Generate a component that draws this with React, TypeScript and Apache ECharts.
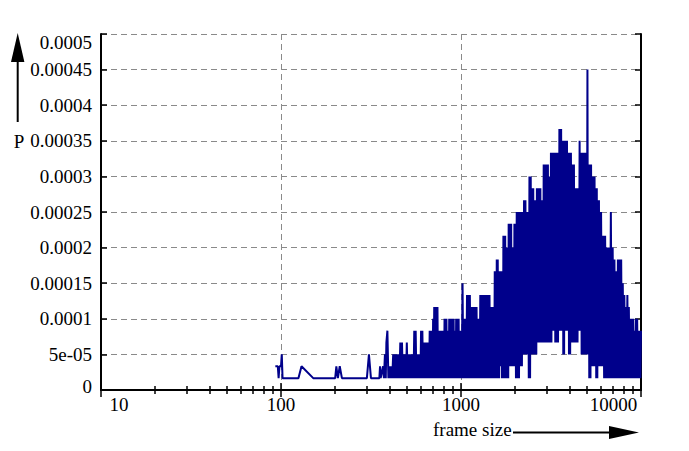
import React, { useEffect, useRef } from "react";
import * as echarts from "echarts";

// ---- tick labels ----
const xTickLabels = ["10", "100", "1000", "10000"];
const yTickLabels = [
  "0", "5e-05", "0.0001", "0.00015", "0.0002", "0.00025",
  "0.0003", "0.00035", "0.0004", "0.00045", "0.0005",
];
const xAxisName = "frame size";
const yAxisName = "P";

// histogram: P = count / TOTAL_FRAMES
const TOTAL_FRAMES = 60000;

// sparse small frames
const sparseSizes = [93, 96, 97, 98, 100, 101, 102, 125, 130, 151, 200, 203, 207, 212, 218, 300, 308, 316, 352, 355, 358, 369, 373, 378, 382, 385];
const sparseCounts = [2, 2, 1, 2, 2, 3, 1, 1, 2, 1, 1, 2, 1, 2, 1, 1, 3, 1, 1, 2, 1, 2, 1, 3, 1, 4];

// 390 - 595
const sizesA = [390, 395, 400, 405, 410, 415, 420, 425, 430, 435, 440, 445, 450, 455, 460, 465, 470, 475, 480, 485, 490, 495, 500, 505, 510, 515, 520, 525, 530, 535, 540, 545, 550, 555, 560, 565, 570, 575, 580, 585, 590, 595];
const countsA = [5, 1, 2, 1, 2, 1, 3, 1, 3, 1, 3, 1, 3, 1, 4, 1, 4, 1, 3, 1, 3, 1, 4, 1, 3, 1, 3, 1, 3, 1, 3, 1, 5, 1, 5, 1, 3, 1, 3, 1, 3, 1];

// 600 - 995
const sizesB = [600, 605, 610, 615, 620, 625, 630, 635, 640, 645, 650, 655, 660, 665, 670, 675, 680, 685, 690, 695, 700, 705, 710, 715, 720, 725, 730, 735, 740, 745, 750, 755, 760, 765, 770, 775, 780, 785, 790, 795, 800, 805, 810, 815, 820, 825, 830, 835, 840, 845, 850, 855, 860, 865, 870, 875, 880, 885, 890, 895, 900, 905, 910, 915, 920, 925, 930, 935, 940, 945, 950, 955, 960, 965, 970, 975, 980, 985, 990, 995];
const countsB = [5, 1, 5, 1, 4, 1, 4, 1, 4, 1, 4, 1, 4, 1, 5, 1, 5, 1, 5, 1, 6, 1, 7, 1, 7, 1, 7, 1, 7, 1, 5, 1, 5, 1, 5, 1, 5, 1, 5, 1, 5, 1, 6, 1, 6, 1, 6, 1, 5, 1, 5, 1, 6, 1, 6, 1, 6, 1, 6, 1, 6, 1, 6, 1, 5, 1, 5, 1, 6, 1, 6, 1, 6, 1, 6, 1, 5, 1, 5, 1];

// 1000 - 1990
const sizesC = [1000, 1010, 1020, 1030, 1040, 1050, 1060, 1070, 1080, 1090, 1100, 1110, 1120, 1130, 1140, 1150, 1160, 1170, 1180, 1190, 1200, 1210, 1220, 1230, 1240, 1250, 1260, 1270, 1280, 1290, 1300, 1310, 1320, 1330, 1340, 1350, 1360, 1370, 1380, 1390, 1400, 1410, 1420, 1430, 1440, 1450, 1460, 1470, 1480, 1490, 1500, 1510, 1520, 1530, 1540, 1550, 1560, 1570, 1580, 1590, 1600, 1610, 1620, 1630, 1640, 1650, 1660, 1670, 1680, 1690, 1700, 1710, 1720, 1730, 1740, 1750, 1760, 1770, 1780, 1790, 1800, 1810, 1820, 1830, 1840, 1850, 1860, 1870, 1880, 1890, 1900, 1910, 1920, 1930, 1940, 1950, 1960, 1970, 1980, 1990];
const countsC = [5, 1, 9, 1, 6, 1, 6, 1, 8, 1, 8, 1, 8, 1, 7, 1, 7, 1, 7, 1, 7, 1, 7, 1, 6, 1, 6, 1, 8, 1, 8, 1, 8, 1, 8, 1, 8, 1, 8, 1, 8, 1, 8, 1, 8, 1, 7, 1, 7, 1, 7, 1, 7, 1, 10, 1, 10, 1, 11, 1, 11, 1, 10, 1, 10, 2, 10, 2, 10, 1, 10, 1, 13, 1, 13, 1, 13, 1, 12, 1, 12, 1, 12, 1, 14, 2, 14, 2, 14, 2, 14, 2, 12, 2, 12, 2, 12, 2, 14, 2];

// 2000 - 3980
const sizesD = [2000, 2020, 2040, 2060, 2080, 2100, 2120, 2140, 2160, 2180, 2200, 2220, 2240, 2260, 2280, 2300, 2320, 2340, 2360, 2380, 2400, 2420, 2440, 2460, 2480, 2500, 2520, 2540, 2560, 2580, 2600, 2620, 2640, 2660, 2680, 2700, 2720, 2740, 2760, 2780, 2800, 2820, 2840, 2860, 2880, 2900, 2920, 2940, 2960, 2980, 3000, 3020, 3040, 3060, 3080, 3100, 3120, 3140, 3160, 3180, 3200, 3220, 3240, 3260, 3280, 3300, 3320, 3340, 3360, 3380, 3400, 3420, 3440, 3460, 3480, 3500, 3520, 3540, 3560, 3580, 3600, 3620, 3640, 3660, 3680, 3700, 3720, 3740, 3760, 3780, 3800, 3820, 3840, 3860, 3880, 3900, 3920, 3940, 3960, 3980];
const countsD = [14, 1, 15, 1, 15, 1, 15, 2, 15, 2, 15, 3, 16, 3, 16, 3, 15, 3, 15, 1, 18, 1, 18, 3, 17, 3, 17, 3, 16, 3, 16, 3, 17, 4, 17, 4, 17, 4, 17, 4, 16, 4, 16, 4, 19, 4, 19, 4, 19, 4, 19, 4, 19, 4, 18, 4, 18, 4, 20, 4, 20, 5, 20, 5, 20, 5, 20, 4, 20, 4, 20, 4, 20, 4, 20, 5, 22, 5, 22, 5, 22, 5, 21, 5, 21, 3, 21, 3, 21, 5, 21, 5, 21, 5, 21, 5, 20, 5, 20, 3];

// 4000 - 5960
const sizesE = [4000, 4040, 4080, 4120, 4160, 4200, 4240, 4280, 4320, 4360, 4400, 4440, 4480, 4520, 4560, 4600, 4640, 4680, 4720, 4760, 4800, 4840, 4880, 4920, 4960, 5000, 5040, 5080, 5120, 5160, 5200, 5240, 5280, 5320, 5360, 5400, 5440, 5480, 5520, 5560, 5600, 5640, 5680, 5720, 5760, 5800, 5840, 5880, 5920, 5960];
const countsE = [20, 3, 20, 4, 19, 4, 19, 4, 17, 4, 17, 4, 17, 5, 21, 5, 20, 3, 20, 3, 20, 3, 20, 3, 20, 3, 27, 3, 19, 1, 19, 1, 19, 2, 18, 2, 18, 2, 18, 2, 17, 1, 17, 1, 16, 2, 16, 2, 15, 2];

// 6000 - 10000
const sizesF = [6000, 6080, 6160, 6240, 6320, 6400, 6480, 6560, 6640, 6720, 6800, 6880, 6960, 7040, 7120, 7200, 7280, 7360, 7440, 7520, 7600, 7680, 7760, 7840, 7920, 8000, 8080, 8160, 8240, 8320, 8400, 8480, 8560, 8640, 8720, 8800, 8880, 8960, 9040, 9120, 9200, 9280, 9360, 9440, 9520, 9600, 9680, 9760, 9840, 9920, 10000];
const countsF = [15, 2, 13, 1, 13, 1, 12, 1, 12, 1, 15, 1, 12, 1, 11, 1, 10, 1, 11, 1, 11, 1, 11, 1, 9, 1, 8, 1, 7, 1, 8, 1, 7, 1, 6, 1, 6, 1, 6, 1, 5, 1, 6, 1, 6, 1, 5, 1, 5, 1, 5];

const FONT = "Liberation Serif";
const FS = 19;

function buildData(): [number, number][] {
  const sizes = [...sparseSizes, ...sizesA, ...sizesB, ...sizesC, ...sizesD, ...sizesE, ...sizesF];
  const counts = [...sparseCounts, ...countsA, ...countsB, ...countsC, ...countsD, ...countsE, ...countsF];
  const out: [number, number][] = [];
  const n = Math.min(sizes.length, counts.length);
  for (let i = 0; i < n; i++) {
    out.push([sizes[i], counts[i] / TOTAL_FRAMES]);
  }
  return out;
}

export default function App() {
  const ref = useRef<HTMLDivElement>(null);
  useEffect(() => {
    if (!ref.current) return;
    const chart = echarts.init(ref.current, null, { renderer: "svg" });
    const txt = { fontFamily: FONT, fontSize: FS, color: "#000" };
    const tickStyle = { color: "#000", width: 1.5 };
    const axisLineStyle = { color: "#000", width: 2 };
    const dash = { color: "#8a8a8a", width: 1, type: [6, 4] as number[] };
    const Y_STEP = 0.00005;

    const option: any = {
      animation: false,
      backgroundColor: "#fff",
      grid: { left: 101, right: 48, top: 34, bottom: 61, containLabel: false },
      xAxis: [
        {
          type: "log",
          logBase: 10,
          min: 10,
          max: 10000,
          position: "bottom",
          axisLine: { show: true, lineStyle: axisLineStyle },
          axisTick: { show: true, inside: true, length: 7, lineStyle: tickStyle },
          minorTick: { show: true, splitNumber: 9, length: 4, lineStyle: tickStyle },
          splitLine: { show: true, lineStyle: dash },
          axisLabel: {
            ...txt,
            margin: 5,
            showMinLabel: true,
            showMaxLabel: true,
            formatter: (v: number) => {
              const i = Math.round(Math.log10(v)) - 1;
              const t = xTickLabels[i] ?? "";
              if (i === 0) return `{first|${t}}`;
              if (i === xTickLabels.length - 1) return `{last|${t}}`;
              return t;
            },
            rich: {
              first: { ...txt, padding: [0, 0, 0, 36] },
              last: { ...txt, padding: [0, 55, 0, 0] },
            },
          },
        },
        {
          type: "log",
          logBase: 10,
          min: 10,
          max: 10000,
          position: "top",
          axisLine: { show: true, lineStyle: axisLineStyle },
          axisTick: { show: true, inside: true, length: 7, lineStyle: tickStyle },
          minorTick: { show: true, splitNumber: 9, length: 4, lineStyle: tickStyle },
          splitLine: { show: false },
          axisLabel: { show: false },
        },
      ],
      yAxis: [
        {
          type: "value",
          min: 0,
          max: 0.0005,
          interval: Y_STEP,
          position: "left",
          axisLine: { show: true, lineStyle: axisLineStyle },
          axisTick: { show: true, inside: true, length: 6, lineStyle: tickStyle },
          splitLine: { show: true, lineStyle: dash },
          axisLabel: {
            ...txt,
            margin: 9,
            showMinLabel: true,
            showMaxLabel: true,
            formatter: (v: number) => {
              const i = Math.round(v / Y_STEP);
              const t = yTickLabels[i] ?? "";
              if (i === 0) return `{first|${t}}`;
              if (i === yTickLabels.length - 1) return `{last|${t}}`;
              return t;
            },
            rich: {
              first: { ...txt, padding: [0, 0, 8, 0] },
              last: { ...txt, padding: [16, 0, 0, 0] },
            },
          },
        },
        {
          type: "value",
          min: 0,
          max: 0.0005,
          interval: Y_STEP,
          position: "right",
          axisLine: { show: true, lineStyle: axisLineStyle },
          axisTick: { show: true, inside: true, length: 6, lineStyle: tickStyle },
          splitLine: { show: false },
          axisLabel: { show: false },
        },
      ],
      series: [
        {
          type: "line",
          xAxisIndex: 0,
          yAxisIndex: 0,
          data: buildData(),
          showSymbol: false,
          symbol: "none",
          clip: true,
          lineStyle: { color: "#00008b", width: 2, join: "bevel" },
          z: 3,
        },
      ],
      graphic: [
        {
          type: "text",
          x: 19,
          y: 141.5,
          style: { text: yAxisName, fill: "#000", fontFamily: FONT, fontSize: FS, align: "center", verticalAlign: "middle" },
        },
        { type: "line", shape: { x1: 17.7, y1: 122, x2: 17.7, y2: 58 }, style: { stroke: "#000", lineWidth: 2 } },
        { type: "polygon", shape: { points: [[17.7, 33], [11, 62], [24.4, 62]] }, style: { fill: "#000" } },
        {
          type: "text",
          x: 433,
          y: 429,
          style: { text: xAxisName, fill: "#000", fontFamily: FONT, fontSize: FS, align: "left", verticalAlign: "middle" },
        },
        { type: "line", shape: { x1: 513, y1: 432.5, x2: 612, y2: 432.5 }, style: { stroke: "#000", lineWidth: 2 } },
        { type: "polygon", shape: { points: [[639, 432.5], [609, 426], [609, 439]] }, style: { fill: "#000" } },
      ],
    };
    chart.setOption(option);
    return () => chart.dispose();
  }, []);
  return (
    <div
      ref={ref}
      style={{ position: "absolute", left: 0, top: 0, width: 689, height: 451, background: "#fff" }}
    />
  );
}
